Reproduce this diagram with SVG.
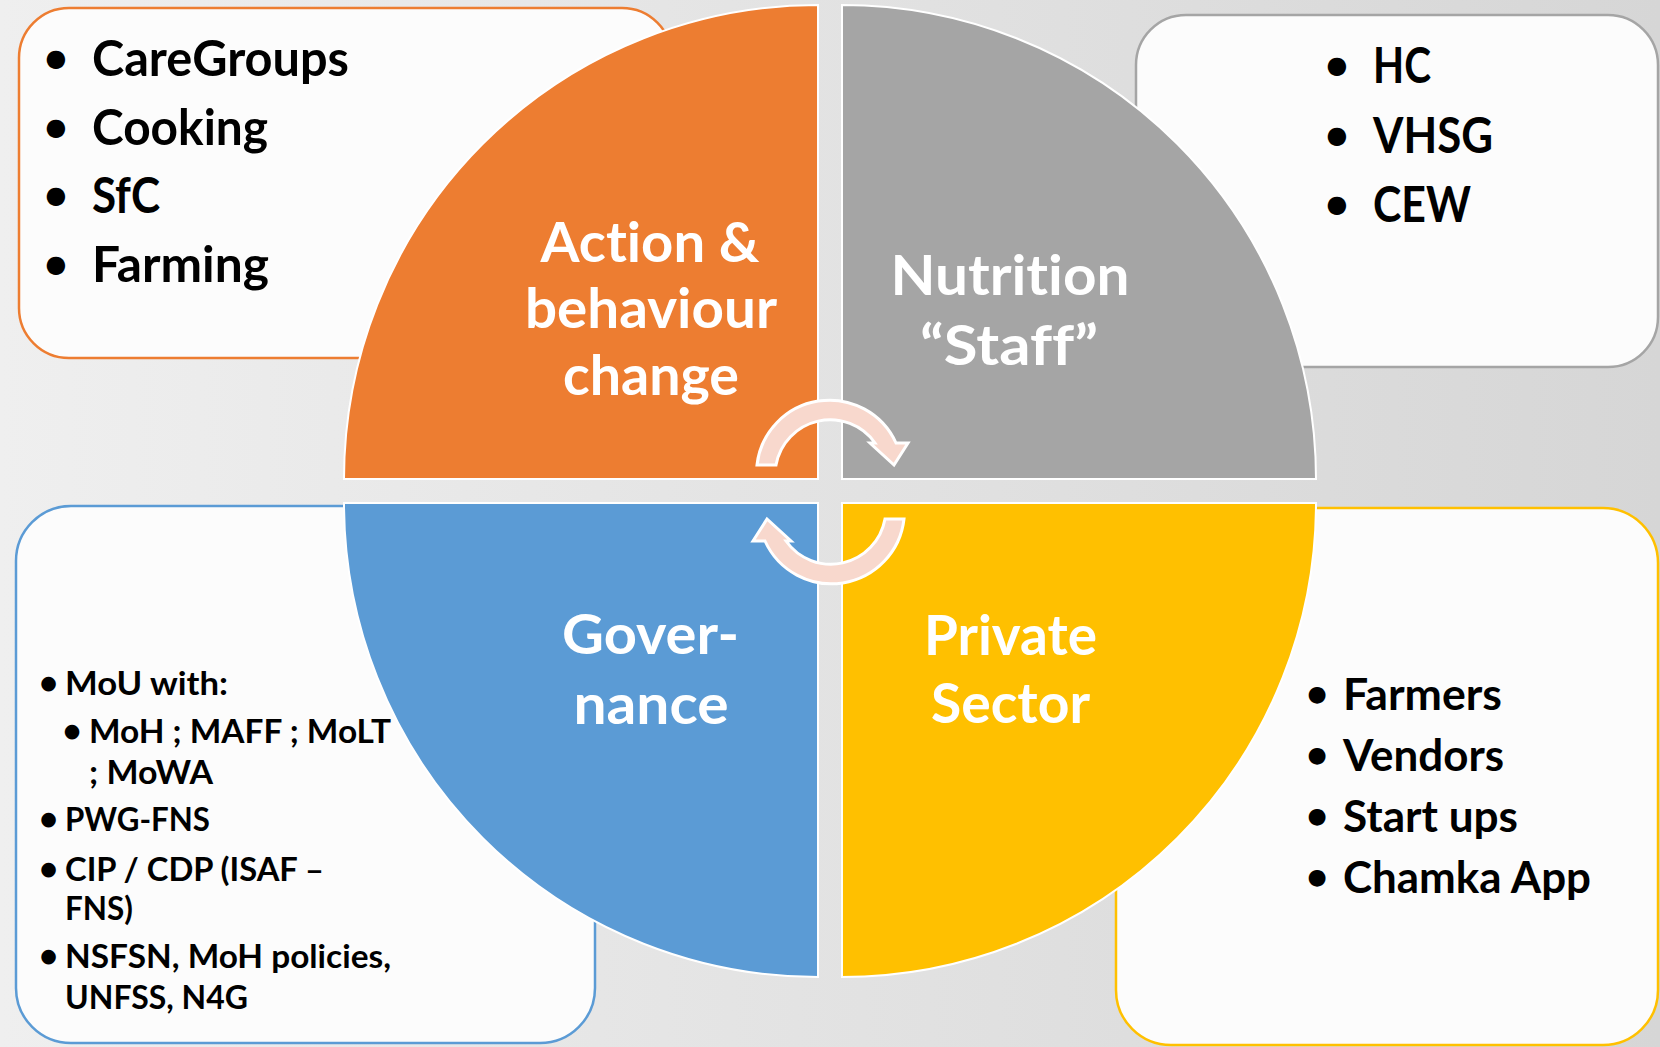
<svg xmlns="http://www.w3.org/2000/svg" xmlns:xlink="http://www.w3.org/1999/xlink" width="1660" height="1047" viewBox="0 0 1660 1047">
<defs>
<linearGradient id="bg" x1="0" y1="0" x2="1" y2="0">
<stop offset="0" stop-color="#efefef"/>
<stop offset="1" stop-color="#d6d6d6"/>
</linearGradient>
<path id="carrow" d="M757,465 A73,73 0 0 1 896,443 L908,443 L894,465 L870,443 L875,443 A55,55 0 0 0 776,465 Z"/>
</defs>
<style>
.box{fill:#fcfcfc;stroke-width:2.5}
.q{stroke:#ffffff;stroke-width:2}
.lbl{font-family:"Lato","Liberation Sans",sans-serif;font-weight:bold;fill:#ffffff;text-anchor:middle;font-size:56px;font-variant-ligatures:none;font-feature-settings:"liga" 0}
.li{font-family:"Lato","Liberation Sans",sans-serif;font-weight:bold;fill:#000000;font-variant-ligatures:none;font-feature-settings:"liga" 0}
.bul{font-family:"DejaVu Sans",sans-serif;fill:#000000;text-anchor:middle}
.arr{fill:#f8d8cd;stroke:#ffffff;stroke-width:3;stroke-linejoin:miter}
</style>
<rect x="0" y="0" width="1660" height="1047" fill="url(#bg)"/>

<g id="box-action">
<rect class="box" x="19" y="8" width="653" height="350" rx="50" stroke="#ed7d31"/>
<text class="bul" font-size="24" x="56" y="66">●</text><text class="li" font-size="49" x="92" y="76" textLength="257" lengthAdjust="spacingAndGlyphs">CareGroups</text>
<text class="bul" font-size="24" x="56" y="135">●</text><text class="li" font-size="49" x="92" y="145" textLength="176" lengthAdjust="spacingAndGlyphs">Cooking</text>
<text class="bul" font-size="24" x="56" y="203">●</text><text class="li" font-size="49" x="92" y="213" textLength="68" lengthAdjust="spacingAndGlyphs">SfC</text>
<text class="bul" font-size="24" x="56" y="272">●</text><text class="li" font-size="49" x="92" y="282" textLength="177" lengthAdjust="spacingAndGlyphs">Farming</text>
</g>

<g id="box-staff">
<rect class="box" x="1136" y="15" width="522" height="352" rx="50" stroke="#a5a5a5"/>
<text class="bul" font-size="24" x="1337" y="73">●</text><text class="li" font-size="49" x="1373" y="83" textLength="58" lengthAdjust="spacingAndGlyphs">HC</text>
<text class="bul" font-size="24" x="1337" y="143">●</text><text class="li" font-size="49" x="1373" y="153" textLength="120" lengthAdjust="spacingAndGlyphs">VHSG</text>
<text class="bul" font-size="24" x="1337" y="212">●</text><text class="li" font-size="49" x="1373" y="222" textLength="98" lengthAdjust="spacingAndGlyphs">CEW</text>
</g>

<g id="box-governance">
<rect class="box" x="16" y="506" width="579" height="537" rx="55" stroke="#5b9bd5"/>
<text class="bul" font-size="19" x="48.5" y="689">●</text><text class="li" font-size="33" x="65" y="695" textLength="163" lengthAdjust="spacingAndGlyphs">MoU with:</text>
<text class="bul" font-size="19" x="72" y="737">●</text><text class="li" font-size="33" x="89" y="743" textLength="302" lengthAdjust="spacingAndGlyphs">MoH ; MAFF ; MoLT</text>
<text class="li" font-size="33" x="89" y="784" textLength="124" lengthAdjust="spacingAndGlyphs">; MoWA</text>
<text class="bul" font-size="19" x="48.5" y="825">●</text><text class="li" font-size="33" x="65" y="831" textLength="145" lengthAdjust="spacingAndGlyphs">PWG-FNS</text>
<text class="bul" font-size="19" x="48.5" y="875">●</text><text class="li" font-size="33" x="65" y="881" textLength="259" lengthAdjust="spacingAndGlyphs">CIP / CDP (ISAF –</text>
<text class="li" font-size="33" x="65" y="920" textLength="68" lengthAdjust="spacingAndGlyphs">FNS)</text>
<text class="bul" font-size="19" x="48.5" y="962">●</text><text class="li" font-size="33" x="65" y="968" textLength="326" lengthAdjust="spacingAndGlyphs">NSFSN, MoH policies,</text>
<text class="li" font-size="33" x="65" y="1009" textLength="183" lengthAdjust="spacingAndGlyphs">UNFSS, N4G</text>
</g>

<g id="box-private">
<rect class="box" x="1116" y="508" width="542" height="537" rx="55" stroke="#ffc000"/>
<text class="bul" font-size="22" x="1317" y="701">●</text><text class="li" font-size="44" x="1343" y="710" textLength="159" lengthAdjust="spacingAndGlyphs">Farmers</text>
<text class="bul" font-size="22" x="1317" y="762">●</text><text class="li" font-size="44" x="1343" y="771" textLength="161" lengthAdjust="spacingAndGlyphs">Vendors</text>
<text class="bul" font-size="22" x="1317" y="823">●</text><text class="li" font-size="44" x="1343" y="832" textLength="175" lengthAdjust="spacingAndGlyphs">Start ups</text>
<text class="bul" font-size="22" x="1317" y="884">●</text><text class="li" font-size="44" x="1343" y="893" textLength="248" lengthAdjust="spacingAndGlyphs">Chamka App</text>
</g>

<g id="q-action">
<path class="q" fill="#ed7d31" d="M818,479 L344,479 A474,474 0 0 1 818,5 Z"/>
<text class="lbl" x="650" y="262" textLength="219" lengthAdjust="spacingAndGlyphs">Action &amp;</text>
<text class="lbl" x="651" y="328" textLength="252" lengthAdjust="spacingAndGlyphs">behaviour</text>
<text class="lbl" x="651" y="395" textLength="176" lengthAdjust="spacingAndGlyphs">change</text>
</g>
<g id="q-staff">
<path class="q" fill="#a5a5a5" d="M842,479 L842,5 A474,474 0 0 1 1316,479 Z"/>
<text class="lbl" x="1010" y="295" textLength="239" lengthAdjust="spacingAndGlyphs">Nutrition</text>
<text class="lbl" x="1009" y="365" textLength="178" lengthAdjust="spacingAndGlyphs">“Staff”</text>
</g>
<g id="q-governance">
<path class="q" fill="#5b9bd5" d="M818,503 L818,977 A474,474 0 0 1 344,503 Z"/>
<text class="lbl" x="650.5" y="654" textLength="177" lengthAdjust="spacingAndGlyphs">Gover-</text>
<text class="lbl" x="651" y="724" textLength="155" lengthAdjust="spacingAndGlyphs">nance</text>
</g>
<g id="q-private">
<path class="q" fill="#ffc000" d="M842,503 L1316,503 A474,474 0 0 1 842,977 Z"/>
<text class="lbl" x="1010.5" y="655" textLength="173" lengthAdjust="spacingAndGlyphs">Private</text>
<text class="lbl" x="1010.5" y="723" textLength="159" lengthAdjust="spacingAndGlyphs">Sector</text>
</g>

<g id="connectors">
<use xlink:href="#carrow" class="arr"/>
<use xlink:href="#carrow" class="arr" transform="rotate(180 830.5 492)"/>
</g>
</svg>
